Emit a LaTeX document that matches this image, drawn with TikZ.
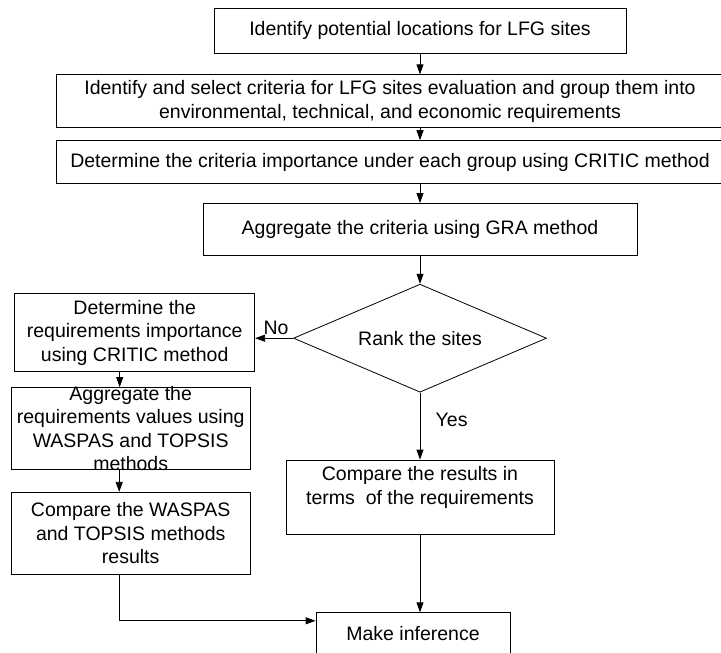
\documentclass[tikz,border=0pt]{standalone}
\usepackage{fontspec}
\setmainfont{Liberation Sans}
\usetikzlibrary{arrows.meta,positioning,shapes.geometric}

\begin{document}
\begin{tikzpicture}[
  x=1pt, y=-1pt,
  node distance=20pt,
  stepbox/.style={draw, line width=0.8pt, align=center, inner sep=2pt, font=\fontsize{19.5}{23.5}\selectfont},
  decide/.style={draw, diamond, line width=0.8pt, aspect=2.34, inner sep=0pt, minimum width=253pt, minimum height=108pt, font=\fontsize{19.5}{23.5}\selectfont},
  arr/.style={-{Stealth[length=10pt, width=7pt, inset=0pt]}, line width=0.8pt},
  lbl/.style={font=\fontsize{19.5}{23.5}\selectfont}
]
  \useasboundingbox (0,0) rectangle (721,653);

  % Main column
  \node[stepbox, minimum width=412pt, minimum height=45pt] (loc) at (420,30.5) {Identify potential locations for LFG sites};
  \node[stepbox, minimum width=668pt, minimum height=53pt, below=21pt of loc, xshift=-30pt] (crit) {Identify and select criteria for LFG sites evaluation and group them into\\environmental, technical, and economic requirements};
  \node[stepbox, minimum width=668pt, minimum height=43pt, below=12pt of crit] (imp) {Determine the criteria importance under each group using CRITIC method};
  \node[stepbox, minimum width=434pt, minimum height=52pt, below=19pt of imp, xshift=30pt] (gra) {Aggregate the criteria using GRA method};
  \node[decide, below=28pt of gra] (rank) {Rank the sites};

  % No branch
  \node[stepbox, minimum width=240pt, minimum height=78pt, left=38pt of rank, yshift=5.5pt] (reqimp) {Determine the\\requirements importance\\using CRITIC method};
  \node[stepbox, minimum width=239pt, minimum height=82pt, inner sep=0pt, below=15pt of reqimp, xshift=-4pt] (agg) {\parbox[c][70pt][c]{235pt}{\centering Aggregate the\\requirements values using\\WASPAS and TOPSIS\\methods}};
  \node[stepbox, minimum width=239pt, minimum height=82pt, below=22pt of agg] (cmpws) {Compare the WASPAS\\and TOPSIS methods\\results};

  % Yes branch
  \node[stepbox, minimum width=268pt, minimum height=74pt, below=67pt of rank] (cmpres) {Compare the results in\\terms\ \ of the requirements\\\mbox{}};
  \node[stepbox, minimum width=194pt, minimum height=42pt, below=78pt of cmpres, xshift=-7pt] (infer) {Make inference};

  % Arrows
  \draw[arr] (loc.south) -- (loc.south |- crit.north);
  \draw[arr] (loc.south |- crit.south) -- (loc.south |- imp.north);
  \draw[arr] (gra.north |- imp.south) -- (gra.north);
  \draw[arr] (gra) -- (rank);
  \draw[arr] (rank.west) -- node[lbl, above, pos=0.45] {No} (rank.west -| reqimp.east);
  \draw[arr] ([xshift=-15pt]reqimp.south) -- ([xshift=-15pt]reqimp.south |- agg.north);
  \draw[arr] ([xshift=-11.5pt]agg.south) -- ([xshift=-11.5pt]agg.south |- cmpws.north);
  \draw[arr] ([xshift=-11.5pt]cmpws.south) |- ([yshift=13pt]infer.west);
  \draw[arr] (rank) -- node[lbl, right=12pt, pos=0.4] {Yes} (cmpres);
  \draw[arr] (cmpres.south) -- (cmpres.south |- infer.north);
\end{tikzpicture}
\end{document}
